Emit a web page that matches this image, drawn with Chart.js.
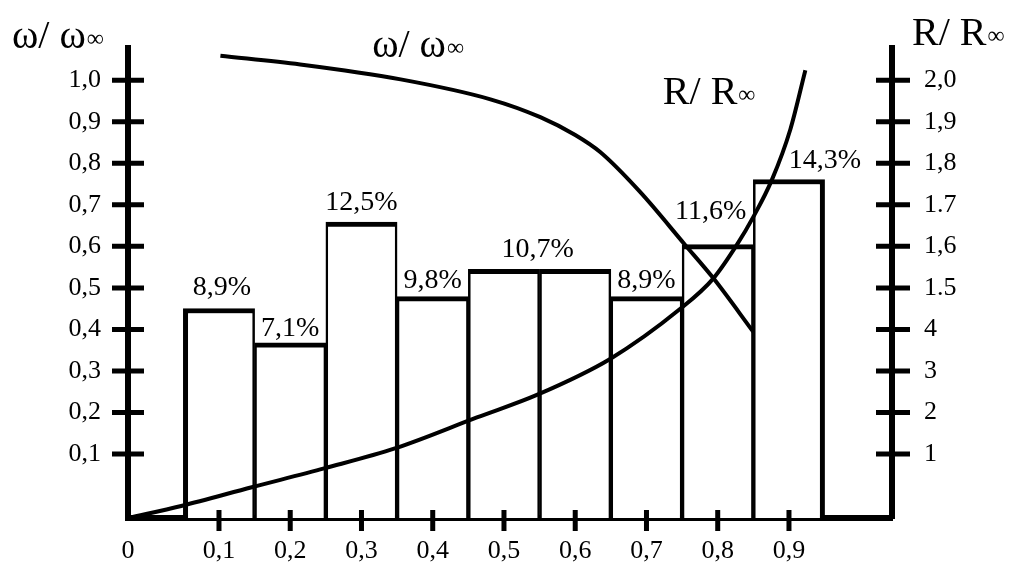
<!DOCTYPE html>
<html lang="ru">
<head>
<meta charset="UTF-8">
<title>ω/ω∞ и R/R∞</title>
<script src="https://cdn.jsdelivr.net/npm/chart.js@4"></script>
<style>
    body { margin: 0; background: #fff; }
    #wrap { width: 1016px; height: 567px; }
</style>
</head>
<body>
<div id="wrap"><canvas id="chart" width="1016" height="567"></canvas></div>
<script>
    // histogram: bin centres and drawn bar heights (%)
    const binCenters = [0.1, 0.2, 0.3, 0.4, 0.5, 0.6, 0.7, 0.8, 0.9];
    const binHeights = [8.85, 7.4, 12.5, 9.35, 10.5, 10.5, 9.35, 11.55, 14.3];
    const pctLabels = ['8,9%', '7,1%', '12,5%', '9,8%', '10,7%', '8,9%', '11,6%', '14,3%'];
    const pctLabelBins = [[0], [1], [2], [3], [4, 5], [6], [7], [8]];

    // ω/ω∞ curve (left axis)
    const omegaX = [0.102, 0.214, 0.355, 0.481, 0.551, 0.600, 0.635, 0.691, 0.754, 0.794, 0.850];
    const omegaY = [1.059, 1.038, 1.002, 0.954, 0.911, 0.868, 0.827, 0.731, 0.604, 0.523, 0.394];

    // R/R∞ curve (right axis)
    const resX = [-0.027, 0.047, 0.146, 0.249, 0.348, 0.462, 0.547, 0.649, 0.747, 0.794, 0.827, 0.850, 0.876, 0.902, 0.923];
    const resY = [0.946, 0.975, 1.020, 1.066, 1.114, 1.188, 1.243, 1.329, 1.449, 1.523, 1.604, 1.671, 1.760, 1.882, 2.024];

    // axis ranges
    const X_RANGE = [-0.0277, 1.0446];
    const W_RANGE = [-0.054, 1.0785];
    const R_RANGE = [0.946, 2.0785];
    const PCT_MAX = 19.87;

    // ticks
    const xTickVals = [-0.0277, 0.1, 0.2, 0.3, 0.4, 0.5, 0.6, 0.7, 0.8, 0.9];
    const xTickLabels = ['0', '0,1', '0,2', '0,3', '0,4', '0,5', '0,6', '0,7', '0,8', '0,9'];
    const leftTickVals = [0.1, 0.2, 0.3, 0.4, 0.5, 0.6, 0.7, 0.8, 0.9, 1.0];
    const leftTickLabels = ['0,1', '0,2', '0,3', '0,4', '0,5', '0,6', '0,7', '0,8', '0,9', '1,0'];
    const rightTickVals = [1.1, 1.2, 1.3, 1.4, 1.5, 1.6, 1.7, 1.8, 1.9, 2.0];
    const rightTickLabels = ['1', '2', '3', '4', '1.5', '1,6', '1.7', '1,8', '1,9', '2,0'];

    const SERIF = "'Liberation Serif', 'Times New Roman', serif";

    // little nudges for the % labels (dx, dy from bar top)
    const pctNudge = [[3, -21], [0, -14], [0, -19], [0, -16], [-2, -20], [0, -16], [-7, -33], [36, -19]];

    function drawRatio(ctx, main, x, y) {
        ctx.textAlign = 'left';
        ctx.textBaseline = 'alphabetic';
        ctx.font = '40px ' + SERIF;
        const w1 = ctx.measureText(main).width;
        ctx.fillText(main, x, y);
        ctx.font = '24px ' + SERIF;
        ctx.fillText('∞', x + w1 + 1, y - 2);
    }

    // tick marks crossing the axis lines
    const crossTicks = {
        id: 'crossTicks',
        afterDraw(chart) {
            const { ctx, scales } = chart;
            ctx.save();
            ctx.strokeStyle = '#000';
            ctx.lineWidth = 5;
            ctx.beginPath();
            const lx = scales.y.right;
            leftTickVals.forEach(v => {
                const py = scales.y.getPixelForValue(v);
                ctx.moveTo(lx - 16, py); ctx.lineTo(lx + 16, py);
            });
            const rx = scales.y2.left;
            rightTickVals.forEach(v => {
                const py = scales.y2.getPixelForValue(v);
                ctx.moveTo(rx - 16, py); ctx.lineTo(rx + 18, py);
            });
            const by = scales.x.top;
            xTickVals.slice(1).forEach(v => {
                const px = scales.x.getPixelForValue(v);
                ctx.moveTo(px, by - 8); ctx.lineTo(px, by + 13);
            });
            ctx.stroke();
            ctx.restore();
        }
    };

    const texts = {
        id: 'texts',
        afterDraw(chart) {
            const { ctx, chartArea, scales } = chart;
            ctx.save();
            ctx.fillStyle = '#000';

            // axis titles
            drawRatio(ctx, 'ω/ ω', chartArea.left - 116, chartArea.top);
            drawRatio(ctx, 'R/ R', chartArea.right + 20, chartArea.top - 3);

            // curve labels
            drawRatio(ctx, 'ω/ ω', scales.x.getPixelForValue(0.315), scales.y.getPixelForValue(1.055));
            drawRatio(ctx, 'R/ R', scales.x.getPixelForValue(0.723), scales.y2.getPixelForValue(1.942));

            // % labels above the bars
            const meta = chart.getDatasetMeta(2);
            ctx.font = '28px ' + SERIF;
            ctx.textAlign = 'center';
            ctx.textBaseline = 'middle';
            pctLabels.forEach((txt, k) => {
                const bars = pctLabelBins[k].map(i => meta.data[i]);
                const cx = bars.reduce((s, b) => s + b.x, 0) / bars.length;
                const top = Math.min(...bars.map(b => b.y));
                ctx.fillText(txt, cx + pctNudge[k][0], top + pctNudge[k][1]);
            });
            ctx.restore();
        }
    };

    const tickFont = { family: SERIF, size: 26 };

    new Chart(document.getElementById('chart'), {
        type: 'bar',
        data: {
            datasets: [
                {
                    type: 'line',
                    label: 'ω/ω∞',
                    data: omegaX.map((x, i) => ({ x: x, y: omegaY[i] })),
                    yAxisID: 'y',
                    borderColor: '#000',
                    borderWidth: 4,
                    pointRadius: 0,
                    cubicInterpolationMode: 'monotone',
                    order: 1
                },
                {
                    type: 'line',
                    label: 'R/R∞',
                    data: resX.map((x, i) => ({ x: x, y: resY[i] })),
                    yAxisID: 'y2',
                    borderColor: '#000',
                    borderWidth: 4,
                    pointRadius: 0,
                    cubicInterpolationMode: 'monotone',
                    order: 1
                },
                {
                    type: 'bar',
                    label: '%',
                    data: binCenters.map((x, i) => ({ x: x, y: binHeights[i] })),
                    yAxisID: 'pct',
                    backgroundColor: '#fff',
                    borderColor: '#000',
                    borderWidth: ctx => ({
                        top: 5,
                        left: ctx.dataIndex === 0 ? 5 : 2.5,
                        right: ctx.dataIndex === binCenters.length - 1 ? 5 : 2.5,
                        bottom: 0
                    }),
                    borderSkipped: 'bottom',
                    categoryPercentage: 1,
                    barPercentage: 1,
                    order: 2
                }
            ]
        },
        options: {
            responsive: false,
            animation: false,
            devicePixelRatio: 1,
            layout: { padding: { top: 45, left: 0, right: 0, bottom: 0 } },
            plugins: {
                legend: { display: false },
                tooltip: { enabled: false }
            },
            scales: {
                x: {
                    type: 'linear',
                    offset: false,
                    min: X_RANGE[0],
                    max: X_RANGE[1],
                    grid: { display: false, drawTicks: false, offset: false },
                    border: { display: true, color: '#000', width: 6 },
                    afterBuildTicks: a => { a.ticks = xTickVals.map(v => ({ value: v })); },
                    afterFit: s => { s.height = 49; },
                    ticks: {
                        autoSkip: false, maxRotation: 0, padding: 18, color: '#000', font: tickFont,
                        callback: (v, i) => xTickLabels[i]
                    }
                },
                y: {
                    position: 'left',
                    min: W_RANGE[0],
                    max: W_RANGE[1],
                    grid: { display: false, drawTicks: false },
                    border: { display: true, color: '#000', width: 6 },
                    afterBuildTicks: a => { a.ticks = leftTickVals.map(v => ({ value: v })); },
                    afterFit: s => { s.width = 128; },
                    ticks: {
                        autoSkip: false, padding: 27, color: '#000', font: tickFont,
                        callback: (v, i) => leftTickLabels[i]
                    }
                },
                y2: {
                    position: 'right',
                    min: R_RANGE[0],
                    max: R_RANGE[1],
                    grid: { display: false, drawTicks: false },
                    border: { display: true, color: '#000', width: 6 },
                    afterBuildTicks: a => { a.ticks = rightTickVals.map(v => ({ value: v })); },
                    afterFit: s => { s.width = 124; },
                    ticks: {
                        autoSkip: false, padding: 32, color: '#000', font: tickFont,
                        callback: (v, i) => rightTickLabels[i]
                    }
                },
                pct: {
                    display: false,
                    min: 0,
                    max: PCT_MAX
                }
            }
        },
        plugins: [crossTicks, texts]
    });
</script>
</body>
</html>
